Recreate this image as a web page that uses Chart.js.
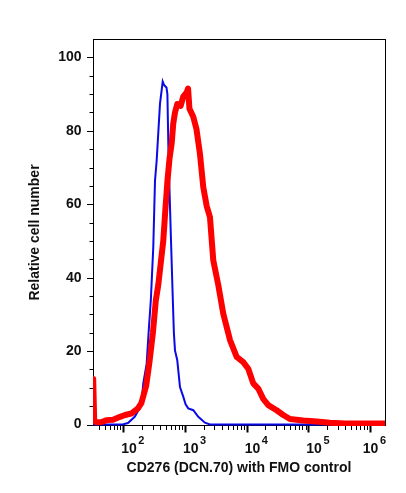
<!DOCTYPE html>
<html>
<head>
<meta charset="utf-8">
<script src="https://cdn.jsdelivr.net/npm/chart.js@4/dist/chart.umd.min.js"></script>
<style>
    body { margin: 0; background: #fff; }
    #wrap { width: 406px; height: 493px; }
</style>
</head>
<body>
<div id="wrap"><canvas id="histChart" width="406" height="493"></canvas></div>
<script>
// x values are log10 of the fluorescence intensity, y values are relative cell number
const fmoLogFL = [1.509, 1.95, 2.0, 2.076, 2.185, 2.25, 2.292, 2.324, 2.379, 2.41, 2.446, 2.486, 2.514, 2.541, 2.595, 2.639, 2.66, 2.70, 2.715, 2.735, 2.77, 2.801, 2.82, 2.838, 2.875, 2.919, 2.972, 3.01, 3.053, 3.135, 3.216, 3.324, 3.405, 6.243];
const fmoCount = [0, 0, 0.1, 0.4, 2.1, 4.0, 5.6, 11.2, 16.6, 25, 33.8, 48.3, 66.4, 71.9, 87.4, 93.4, 92.5, 91.8, 90, 72, 52, 35, 25, 20.2, 17.5, 10.2, 7.6, 5.5, 4.4, 3.9, 2.1, 0.5, 0, 0];

const cd276LogFL = [1.512, 1.528, 1.569, 1.65, 1.731, 1.833, 1.947, 2.028, 2.13, 2.238, 2.292, 2.37, 2.428, 2.48, 2.527, 2.567, 2.648, 2.68, 2.716, 2.75, 2.784, 2.81, 2.838, 2.875, 2.93, 2.972, 3.028, 3.05, 3.073, 3.134, 3.186, 3.243, 3.297, 3.352, 3.405, 3.459, 3.54, 3.621, 3.73, 3.838, 3.945, 4.026, 4.107, 4.188, 4.269, 4.35, 4.486, 4.593, 4.702, 4.917, 5.134, 5.35, 5.593, 6.243];
const cd276Count = [12.4, 1.0, 0.6, 0.7, 1.2, 1.3, 2.1, 2.6, 3.0, 4.4, 5.8, 10.5, 17.5, 25, 33.8, 38, 50, 58, 66.4, 72.5, 76.5, 82, 85, 87.3, 86.8, 89.3, 90.5, 91.5, 86, 83.8, 80.5, 73.7, 64.6, 59.5, 56.5, 44.7, 38.0, 30.2, 23.0, 18.4, 17.0, 15.2, 11.2, 9.8, 7.0, 5.3, 3.9, 2.6, 1.5, 1.1, 0.8, 0.5, 0.3, 0.3];

const xDecades = [2, 3, 4, 5, 6];          // labelled powers of ten
const yTickValues = [0, 20, 40, 60, 80, 100];
const yMinorStep = 5;

const xMin = Math.pow(10, 1.5087);
const xMax = Math.pow(10, 6.2432);
const fontFamily = "'Liberation Sans', Arial, Helvetica, sans-serif";

function toPoints(logs, counts) {
    return logs.map((l, i) => ({ x: Math.pow(10, l), y: counts[i] }));
}

// all tick positions on the log axis: 1..9 x 10^n inside the range
function logTickValues() {
    const vals = [];
    for (let n = 1; n <= 6; n++) {
        for (let k = 1; k <= 9; k++) {
            const v = k * Math.pow(10, n);
            if (v >= xMin && v <= xMax) vals.push(v);
        }
    }
    return vals;
}

const yMinorValues = [];
for (let v = 0; v <= 100; v += yMinorStep) yMinorValues.push(v);

// box, tick marks and 10^n labels
const axisMarks = {
    id: 'axisMarks',
    beforeDatasetsDraw(chart) {
        const { ctx, chartArea: a, scales: { x, y } } = chart;
        ctx.save();
        ctx.strokeStyle = '#000';
        ctx.lineWidth = 1;
        ctx.strokeRect(a.left + 0.5, a.top + 0.5, a.right - a.left, a.bottom - a.top - 1);

        // y ticks
        yMinorValues.forEach(v => {
            const py = Math.round(y.getPixelForValue(v)) + 0.5;
            const len = v % 20 === 0 ? 6 : 3.5;
            ctx.beginPath();
            ctx.moveTo(a.left - len, py);
            ctx.lineTo(a.left, py);
            ctx.stroke();
        });

        // x ticks
        logTickValues().forEach(v => {
            const major = Math.abs(Math.log10(v) - Math.round(Math.log10(v))) < 1e-9;
            const px = Math.round(x.getPixelForValue(v)) + 0.5;
            ctx.lineWidth = major ? 2 : 1;
            ctx.beginPath();
            ctx.moveTo(px, a.bottom);
            ctx.lineTo(px, a.bottom + (major ? 6.5 : 4));
            ctx.stroke();
        });
        ctx.restore();
    },
    afterDraw(chart) {
        const { ctx, chartArea: a, scales: { x } } = chart;
        ctx.save();
        ctx.fillStyle = '#111';
        ctx.textAlign = 'left';
        ctx.textBaseline = 'alphabetic';
        xDecades.forEach(n => {
            const px = x.getPixelForValue(Math.pow(10, n));
            ctx.font = 'bold 14px ' + fontFamily;
            const baseW = ctx.measureText('10').width;
            ctx.font = 'bold 11px ' + fontFamily;
            const supW = ctx.measureText(String(n)).width;
            let left = px - 2;
            const total = baseW + 1.5 + supW;
            if (left + total > a.right + 1) left = a.right + 1 - total;
            ctx.font = 'bold 14px ' + fontFamily;
            ctx.fillText('10', left, 453);
            ctx.font = 'bold 11px ' + fontFamily;
            ctx.fillText(String(n), left + baseW + 1.5, 444);
        });
        ctx.restore();
    }
};

const ctx = document.getElementById('histChart').getContext('2d');
new Chart(ctx, {
    type: 'line',
    data: {
        datasets: [{
            label: 'CD276 (DCN.70)',
            data: toPoints(cd276LogFL, cd276Count),
            borderColor: '#ff0000',
            borderWidth: 6,
            borderJoinStyle: 'round',
            borderCapStyle: 'round',
            pointRadius: 0,
            tension: 0,
            fill: false
        }, {
            label: 'FMO control',
            data: toPoints(fmoLogFL, fmoCount),
            borderColor: '#0a0ae6',
            borderWidth: 2,
            pointRadius: 0,
            tension: 0,
            fill: false
        }]
    },
    options: {
        responsive: false,
        animation: false,
        events: [],
        layout: { padding: { top: 39, right: 21, left: 0, bottom: 0 } },
        plugins: {
            legend: { display: false },
            tooltip: { enabled: false }
        },
        scales: {
            x: {
                type: 'logarithmic',
                min: xMin,
                max: xMax,
                afterBuildTicks: scale => { scale.ticks = logTickValues().map(v => ({ value: v })); },
                afterFit: scale => { scale.height = 67; },
                grid: { display: false },
                border: { display: false },
                ticks: { display: false },
                title: {
                    display: true,
                    text: 'CD276 (DCN.70) with FMO control',
                    color: '#111',
                    font: { family: fontFamily, size: 14, weight: 'bold' },
                    padding: { top: 0, bottom: 16.5 }
                }
            },
            y: {
                type: 'linear',
                min: -0.4,
                max: 105,
                afterBuildTicks: scale => { scale.ticks = yTickValues.map(v => ({ value: v })); },
                afterFit: scale => { scale.width = 93; },
                grid: {
                    display: true,
                    drawOnChartArea: false,
                    drawTicks: true,
                    tickLength: 6,
                    tickColor: 'rgba(0,0,0,0)'
                },
                border: { display: false },
                ticks: {
                    autoSkip: false,
                    padding: 5.5,
                    color: '#111',
                    font: { family: fontFamily, size: 14, weight: 'bold' }
                },
                title: {
                    display: true,
                    text: 'Relative cell number',
                    color: '#111',
                    font: { family: fontFamily, size: 14, weight: 'bold' },
                    padding: { top: 26.5, bottom: 0 }
                }
            }
        }
    },
    plugins: [axisMarks]
});
</script>
</body>
</html>
